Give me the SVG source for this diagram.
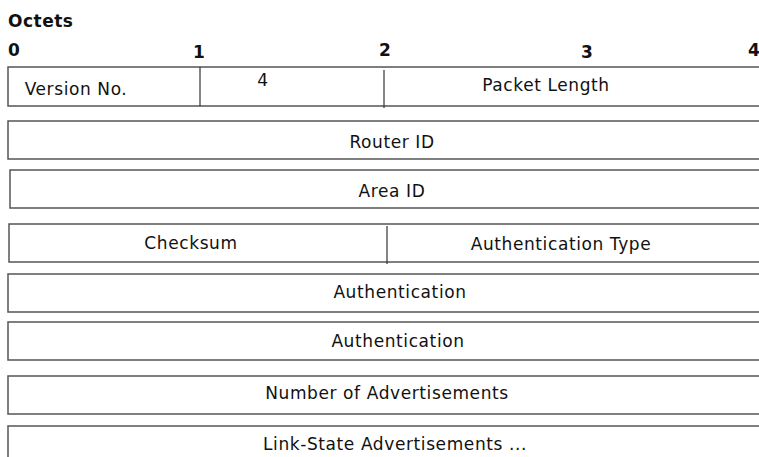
<svg xmlns="http://www.w3.org/2000/svg" width="759" height="457" viewBox="0 0 759 457">
<style>
.f{fill:#fff;stroke:#555;stroke-width:1.5}
.d{stroke:#333;stroke-width:1.2}
.t{font-family:"DejaVu Sans",sans-serif;font-size:17px;letter-spacing:0.6px;fill:#111;text-anchor:middle}
.h{font-family:"DejaVu Sans",sans-serif;font-size:17px;letter-spacing:0.5px;font-weight:bold;fill:#111}
</style>
<rect width="759" height="457" fill="#fff"/>
<g id="header">
<text class="h" x="8" y="27">Octets</text>
<text class="h" x="8" y="56">0</text>
<text class="h" x="193" y="58">1</text>
<text class="h" x="379" y="56">2</text>
<text class="h" x="581" y="58">3</text>
<text class="h" x="748" y="56">4</text>
</g>
<g id="row1">
<path class="f" d="M760 67H8V106H760"/>
<text class="t" x="76" y="95">Version No.</text>
<text class="t" x="263" y="86">4</text>
<text class="t" x="546" y="91">Packet Length</text>
</g>
<g id="router">
<path class="f" d="M760 121H8V159H760"/>
<text class="t" x="392" y="148">Router ID</text>
</g>
<g id="area">
<path class="f" d="M760 170H10V208H760"/>
<text class="t" x="392" y="197">Area ID</text>
</g>
<g id="checksum">
<path class="f" d="M760 224H9V262H760"/>
<text class="t" x="191" y="249">Checksum</text>
<text class="t" x="561" y="250">Authentication Type</text>
</g>
<g id="auth1">
<path class="f" d="M760 274H8V312H760"/>
<text class="t" x="400" y="298">Authentication</text>
</g>
<g id="auth2">
<path class="f" d="M760 322H8V360H760"/>
<text class="t" x="398" y="347">Authentication</text>
</g>
<g id="numads">
<path class="f" d="M760 376H8V414H760"/>
<text class="t" x="387" y="399">Number of Advertisements</text>
</g>
<g id="lsa">
<path class="f" d="M760 426H8V460"/>
<text class="t" x="395" y="450">Link-State Advertisements ...</text>
</g>
<g id="connectors">
<line class="d" x1="200" y1="67" x2="200" y2="106"/>
<line class="d" x1="384" y1="70" x2="384" y2="108"/>
<line class="d" x1="387" y1="226" x2="387" y2="264"/>
</g>
</svg>
